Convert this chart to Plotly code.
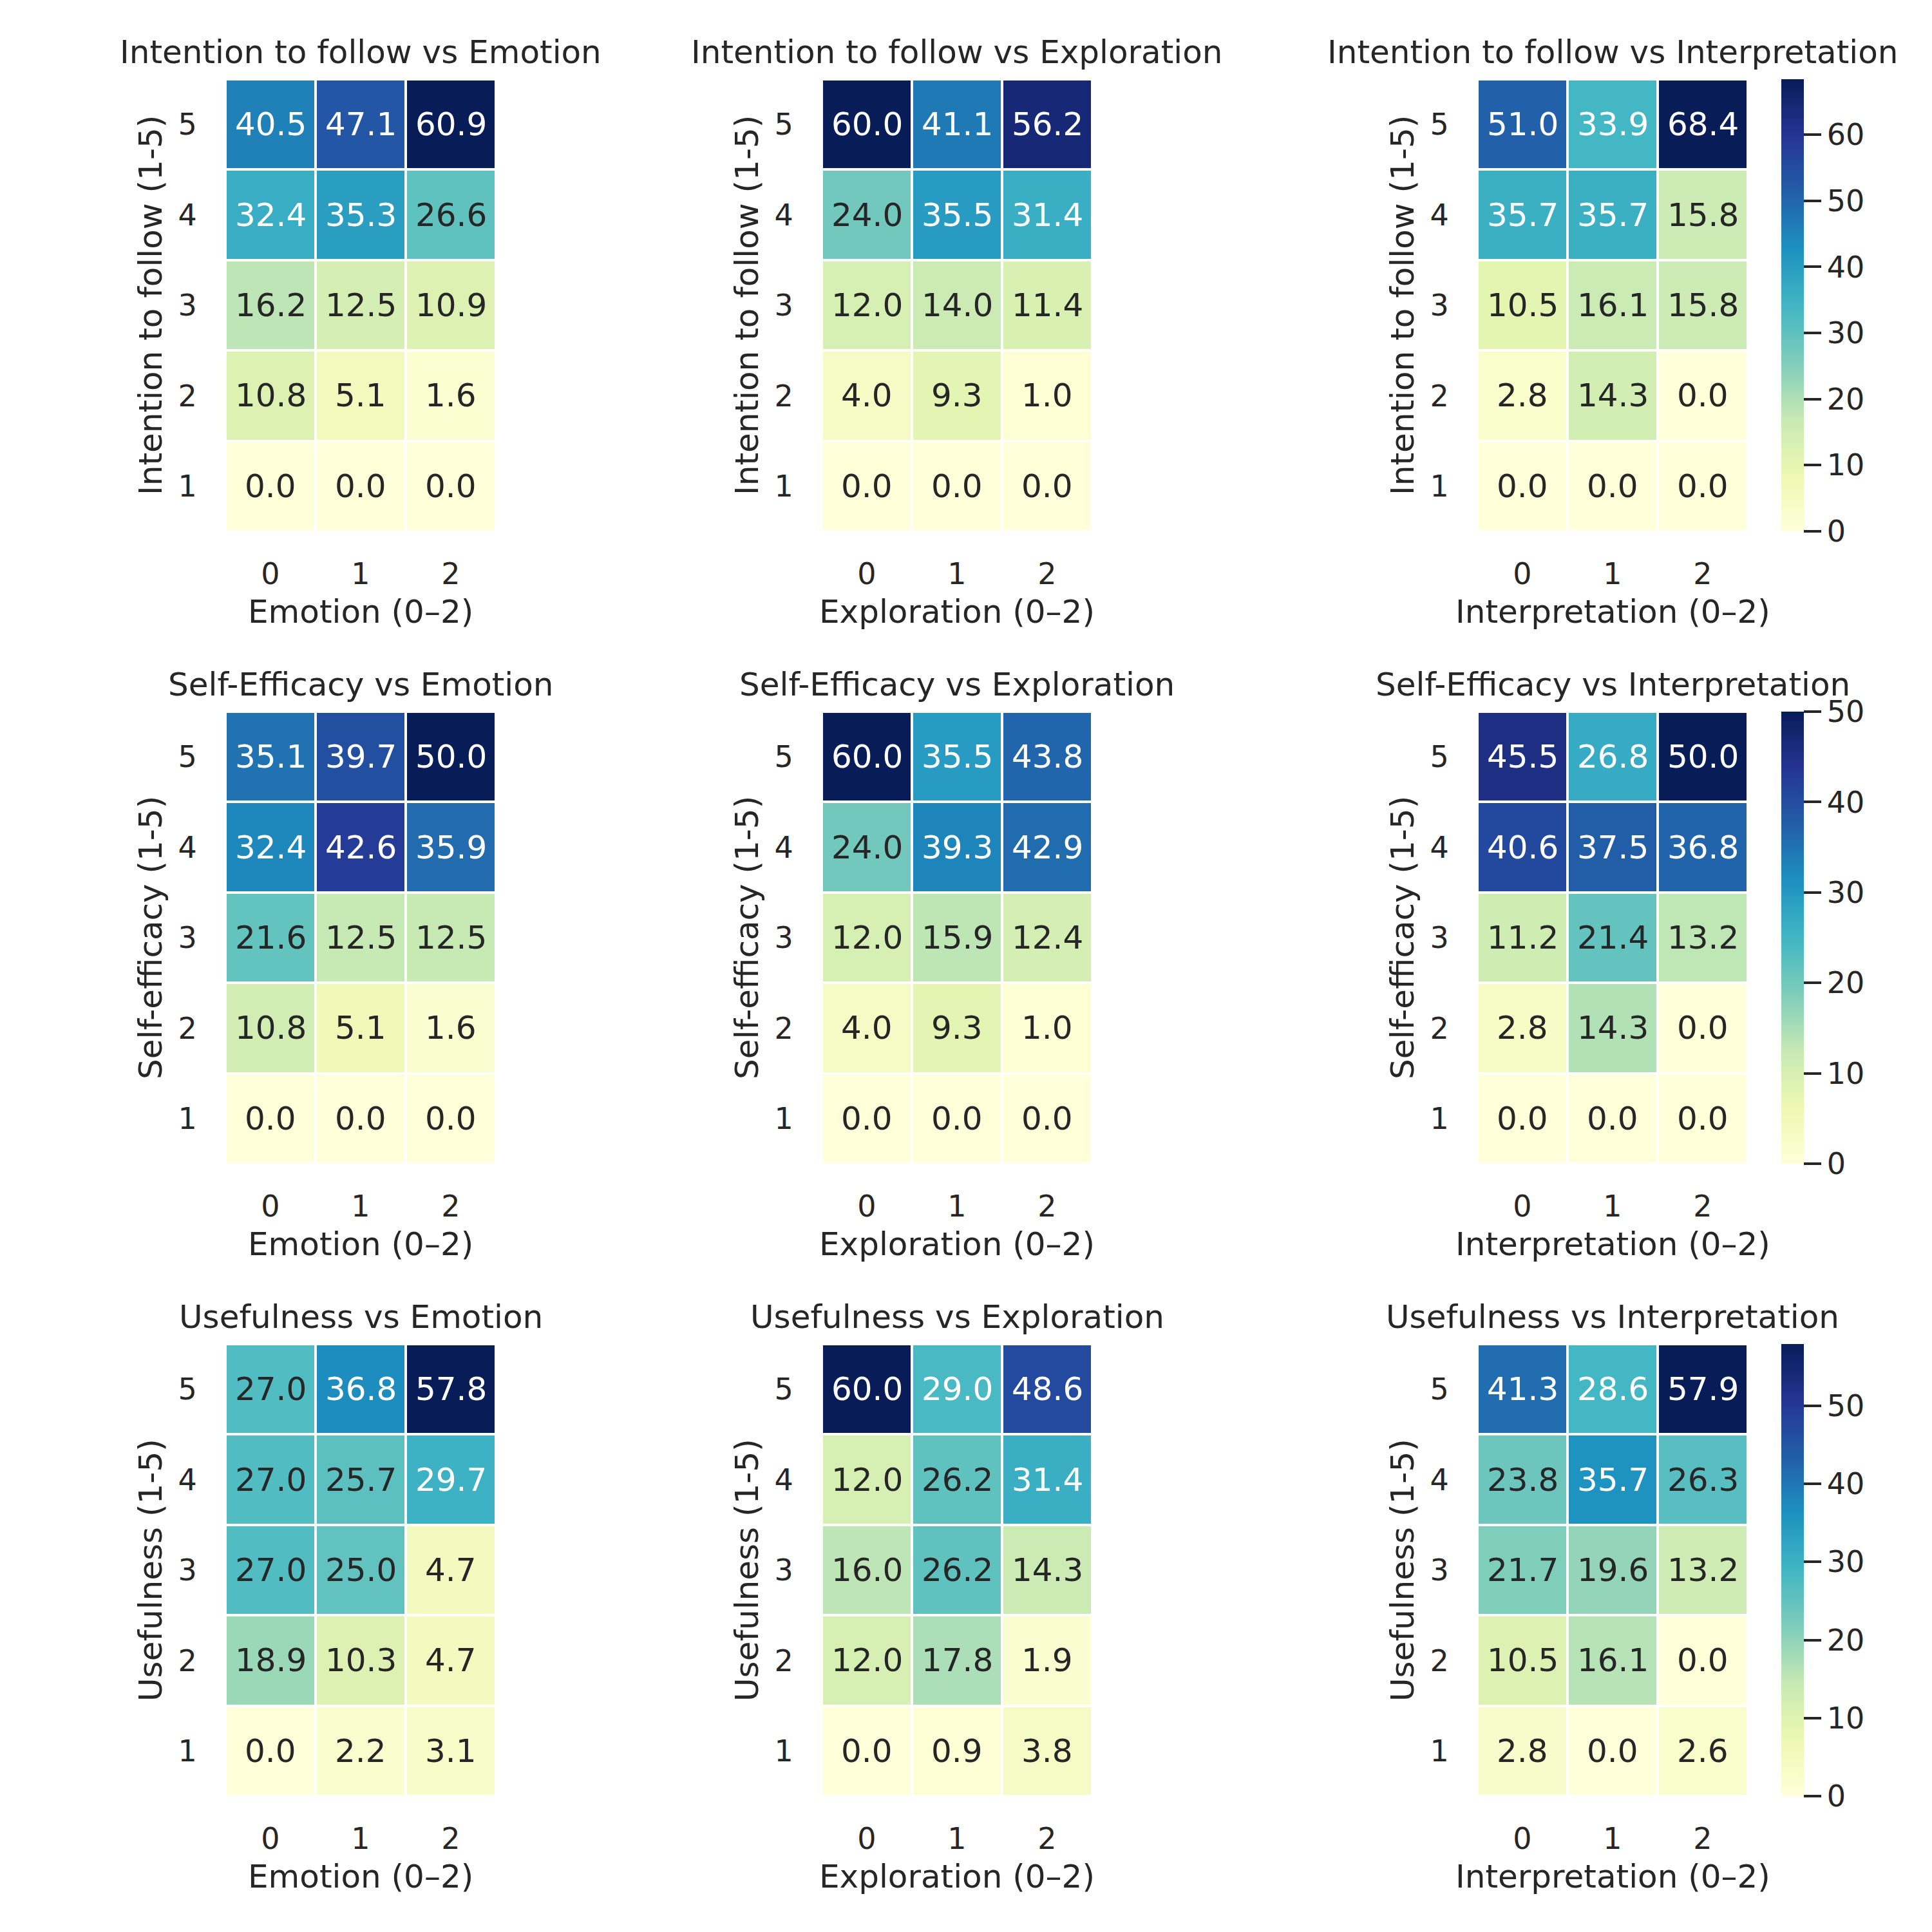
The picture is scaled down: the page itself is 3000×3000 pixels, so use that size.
import plotly.graph_objects as go

# ---------------- data ----------------
outcome_titles = ["Intention to follow", "Self-Efficacy", "Usefulness"]
outcome_labels = ["Intention to follow (1-5)", "Self-efficacy (1-5)", "Usefulness (1-5)"]
predictors = ["Emotion", "Exploration", "Interpretation"]
x_levels = [0, 1, 2]
y_levels = [5, 4, 3, 2, 1]

intention_emotion = [[40.5, 47.1, 60.9], [32.4, 35.3, 26.6], [16.2, 12.5, 10.9], [10.8, 5.1, 1.6], [0.0, 0.0, 0.0]]
intention_exploration = [[60.0, 41.1, 56.2], [24.0, 35.5, 31.4], [12.0, 14.0, 11.4], [4.0, 9.3, 1.0], [0.0, 0.0, 0.0]]
intention_interpretation = [[51.0, 33.9, 68.4], [35.7, 35.7, 15.8], [10.5, 16.1, 15.8], [2.8, 14.3, 0.0], [0.0, 0.0, 0.0]]

efficacy_emotion = [[35.1, 39.7, 50.0], [32.4, 42.6, 35.9], [21.6, 12.5, 12.5], [10.8, 5.1, 1.6], [0.0, 0.0, 0.0]]
efficacy_exploration = [[60.0, 35.5, 43.8], [24.0, 39.3, 42.9], [12.0, 15.9, 12.4], [4.0, 9.3, 1.0], [0.0, 0.0, 0.0]]
efficacy_interpretation = [[45.5, 26.8, 50.0], [40.6, 37.5, 36.8], [11.2, 21.4, 13.2], [2.8, 14.3, 0.0], [0.0, 0.0, 0.0]]

usefulness_emotion = [[27.0, 36.8, 57.8], [27.0, 25.7, 29.7], [27.0, 25.0, 4.7], [18.9, 10.3, 4.7], [0.0, 2.2, 3.1]]
usefulness_exploration = [[60.0, 29.0, 48.6], [12.0, 26.2, 31.4], [16.0, 26.2, 14.3], [12.0, 17.8, 1.9], [0.0, 0.9, 3.8]]
usefulness_interpretation = [[41.3, 28.6, 57.9], [23.8, 35.7, 26.3], [21.7, 19.6, 13.2], [10.5, 16.1, 0.0], [2.8, 0.0, 2.6]]

grid = [
    [intention_emotion, intention_exploration, intention_interpretation],
    [efficacy_emotion, efficacy_exploration, efficacy_interpretation],
    [usefulness_emotion, usefulness_exploration, usefulness_interpretation],
]

# ---------------- style ----------------
W = H = 3000
FONT = "DejaVu Sans"
TXT = "#262626"
YLGNBU = ["#ffffd9", "#edf8b1", "#c7e9b4", "#7fcdbb", "#41b6c4",
          "#1d91c0", "#225ea8", "#253494", "#081d58"]
colorscale = [[i / 8, c] for i, c in enumerate(YLGNBU)]

col_left = [350, 1276, 2294]
row_top = [123, 1105, 2087]
cell_w = 420
cell_h = 702


def hex2rgb(h):
    h = h.lstrip("#")
    return [int(h[i:i + 2], 16) / 255 for i in (0, 2, 4)]


RGB = [hex2rgb(c) for c in YLGNBU]


def cmap(t):
    idx = min(int(t * 256), 255) / 255
    pos = idx * 8
    i = min(int(pos), 7)
    f = pos - i
    return [RGB[i][k] * (1 - f) + RGB[i + 1][k] * f for k in range(3)]


def luminance(rgb):
    lin = [c / 12.92 if c <= 0.03928 else ((c + 0.055) / 1.055) ** 2.4 for c in rgb]
    return 0.2126 * lin[0] + 0.7152 * lin[1] + 0.0722 * lin[2]


def px(x):
    return x / W


def py(y):
    return 1 - y / H


fig = go.Figure()
annotations = []
layout = {}

for r in range(3):
    for c in range(3):
        k = r * 3 + c + 1
        z = grid[r][c]
        zmax = max(max(row) for row in z)
        zmin = min(min(row) for row in z)
        xs = "x" if k == 1 else f"x{k}"
        ys = "y" if k == 1 else f"y{k}"
        show = c == 2
        top = row_top[r]
        hm = go.Heatmap(
            z=z, x=x_levels, y=y_levels, xaxis=xs, yaxis=ys,
            colorscale=colorscale, zmin=zmin, zmax=zmax,
            xgap=4, ygap=4, showscale=show, hoverinfo="skip",
        )
        if show:
            hm.colorbar = dict(
                x=px(2766), xanchor="left", thickness=35, thicknessmode="pixels",
                len=cell_h / H, lenmode="fraction", y=py(top + cell_h / 2), yanchor="middle",
                xpad=0, ypad=0, outlinewidth=0, ticks="outside", ticklen=27, tickwidth=4,
                tickcolor=TXT, tick0=0, dtick=10,
                tickfont=dict(family=FONT, size=46, color=TXT),
            )
        fig.add_trace(hm)

        xa = "xaxis" if k == 1 else f"xaxis{k}"
        ya = "yaxis" if k == 1 else f"yaxis{k}"
        layout[xa] = dict(
            domain=[px(col_left[c]), px(col_left[c] + cell_w)], anchor=ys,
            range=[-0.5, 2.5], tickvals=x_levels, ticktext=[str(v) for v in x_levels],
            showgrid=False, zeroline=False, showline=False,
            ticks="outside", ticklen=26, tickcolor="rgba(0,0,0,0)",
            tickfont=dict(family=FONT, size=46, color=TXT), fixedrange=True,
        )
        layout[ya] = dict(
            domain=[py(top + cell_h), py(top)], anchor=xs,
            range=[0.5, 5.5], tickvals=y_levels, ticktext=[str(v) for v in y_levels],
            showgrid=False, zeroline=False, showline=False,
            ticks="outside", ticklen=34, tickcolor="rgba(0,0,0,0)",
            tickfont=dict(family=FONT, size=46, color=TXT), fixedrange=True,
        )

        # cell annotations
        for i, yv in enumerate(y_levels):
            for j, xv in enumerate(x_levels):
                v = z[i][j]
                t = (v - zmin) / (zmax - zmin) if zmax > zmin else 0
                col = "white" if luminance(cmap(t)) <= 0.408 else TXT
                annotations.append(dict(
                    x=xv, y=yv, xref=xs, yref=ys, text=f"{v:.1f}", showarrow=False,
                    font=dict(family=FONT, size=50, color=col),
                    xanchor="center", yanchor="middle",
                ))

        cx = col_left[c] + cell_w / 2
        # title
        annotations.append(dict(
            x=px(cx), y=py(top - 42), xref="paper", yref="paper",
            text=f"{outcome_titles[r]} vs {predictors[c]}", showarrow=False,
            font=dict(family=FONT, size=50, color=TXT), xanchor="center", yanchor="middle",
        ))
        # x label
        annotations.append(dict(
            x=px(cx), y=py(top + cell_h + 125), xref="paper", yref="paper",
            text=f"{predictors[c]} (0\u20132)", showarrow=False,
            font=dict(family=FONT, size=50, color=TXT), xanchor="center", yanchor="middle",
        ))
        # y label
        annotations.append(dict(
            x=px(col_left[c] - 116), y=py(top + cell_h / 2), xref="paper", yref="paper",
            text=outcome_labels[r], showarrow=False, textangle=-90,
            font=dict(family=FONT, size=50, color=TXT), xanchor="center", yanchor="middle",
        ))

fig.update_layout(
    width=W, height=H, margin=dict(l=0, r=0, t=0, b=0),
    paper_bgcolor="white", plot_bgcolor="white",
    font=dict(family=FONT, color=TXT), showlegend=False,
    annotations=annotations, **layout,
)

fig.write_html("out.html")
